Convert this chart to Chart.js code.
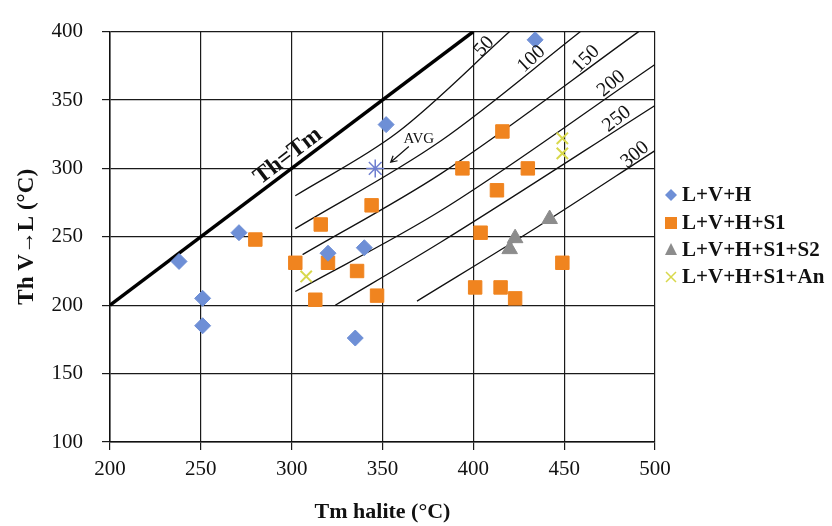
<!DOCTYPE html>
<html>
<head>
<meta charset="utf-8">
<script src="https://cdn.jsdelivr.net/npm/chart.js@4.4.0/dist/chart.umd.min.js"></script>
<style>
  html, body { margin: 0; padding: 0; background: #fff; }
</style>
</head>
<body>
<canvas id="myChart" width="832" height="526"></canvas>
<script>
// measured inclusions (Tm halite, Th V->L)
var lvhX = [238, 251, 251, 271, 320, 340, 335, 352, 434];
var lvhY = [232, 205, 185, 253, 238, 242, 176, 332, 394];

var lvhs1X = [280, 302, 316, 320, 336, 344, 313, 347, 394, 416, 413, 430, 404, 401, 415, 423, 449];
var lvhs1Y = [248, 231, 259, 231, 225, 273, 204, 207, 300, 327, 284, 300, 253, 213, 213, 205, 231];

var lvhs1s2X = [423, 420, 442];
var lvhs1s2Y = [249, 241, 263];

var lvhs1AnX = [308, 449, 449];
var lvhs1AnY = [221, 322, 311];

var avgX = [346];
var avgY = [300];

// Th = Tm line and isobars
var thTmX = [200, 400];
var thTmY = [200, 400];

var isoNames = ['50', '100', '150', '200', '250', '300'];
var isoX = [
  [302, 358, 420],
  [302, 382, 459],
  [306, 382, 491],
  [302, 382, 500],
  [324, 382, 500],
  [369, 435, 500]
];
var isoY = [
  [280, 326, 400],
  [256, 320, 400],
  [237, 296, 400],
  [210, 269, 376],
  [200, 246, 346],
  [203, 257, 313]
];

var xTicks = [200, 250, 300, 350, 400, 450, 500];
var yTicks = [100, 150, 200, 250, 300, 350, 400];

// label placement (data coords) and rotation
var isoLabelPos = [[406, 389, -47], [432, 380, -43], [462, 380, -45], [476, 362, -40], [479, 336, -38], [489, 310, -40]];

function pts(xs, ys) {
  return xs.map(function (v, i) { return { x: v, y: ys[i] }; });
}

var serif = '"Liberation Serif", "Times New Roman", serif';

var datasets = [
  { label: 'L+V+H', data: pts(lvhX, lvhY), pointStyle: 'rectRot', pointRadius: 8,
    backgroundColor: '#6e8fd6', borderColor: '#6e8fd6', order: 1 },
  { label: 'L+V+H+S1', data: pts(lvhs1X, lvhs1Y), pointStyle: 'rect', pointRadius: 9.5,
    backgroundColor: '#f0841f', borderColor: '#f0841f', order: 1 },
  { label: 'L+V+H+S1+S2', data: pts(lvhs1s2X, lvhs1s2Y), pointStyle: 'triangle', pointRadius: 9,
    backgroundColor: '#8c8c8c', borderColor: '#8c8c8c', order: 1 },
  { label: 'L+V+H+S1+An', data: pts(lvhs1AnX, lvhs1AnY), pointStyle: 'crossRot', pointRadius: 8,
    borderWidth: 2, backgroundColor: '#d8d84c', borderColor: '#d8d84c', order: 1 },
  { label: 'AVG', data: pts(avgX, avgY), pointStyle: 'star', pointRadius: 9,
    borderWidth: 1.5, borderColor: '#6f7fd0', backgroundColor: '#6f7fd0', order: 0 },
  { label: 'Th=Tm', data: pts(thTmX, thTmY), showLine: true, pointRadius: 0,
    borderColor: '#000', borderWidth: 3.5, order: 5 }
];

isoNames.forEach(function (n, i) {
  datasets.push({
    label: n, data: pts(isoX[i], isoY[i]), showLine: true, pointRadius: 0,
    borderColor: '#111', borderWidth: 1.3, cubicInterpolationMode: 'monotone', order: 5
  });
});

var legendItems = [
  { text: 'L+V+H', shape: 'diamond', color: '#6e8fd6' },
  { text: 'L+V+H+S1', shape: 'square', color: '#f0841f' },
  { text: 'L+V+H+S1+S2', shape: 'triangle', color: '#8c8c8c' },
  { text: 'L+V+H+S1+An', shape: 'x', color: '#d8d84c' }
];

var annotations = {
  id: 'annotations',
  afterDraw: function (chart) {
    var ctx = chart.ctx, xs = chart.scales.x, ys = chart.scales.y;
    ctx.save();
    ctx.fillStyle = '#111';
    ctx.textAlign = 'center';
    ctx.textBaseline = 'middle';

    // isobar labels
    ctx.font = '20px ' + serif;
    isoNames.forEach(function (n, i) {
      var p = isoLabelPos[i];
      ctx.save();
      ctx.translate(xs.getPixelForValue(p[0]), ys.getPixelForValue(p[1]));
      ctx.rotate(p[2] * Math.PI / 180);
      ctx.fillText(n, 0, 0);
      ctx.restore();
    });

    // Th=Tm label
    ctx.save();
    ctx.font = 'bold 24px ' + serif;
    ctx.translate(xs.getPixelForValue(298), ys.getPixelForValue(309));
    ctx.rotate(-37.4 * Math.PI / 180);
    ctx.fillText('Th=Tm', 0, 0);
    ctx.restore();

    // AVG label and arrow
    ctx.font = '15px ' + serif;
    ctx.fillText('AVG', xs.getPixelForValue(370), ys.getPixelForValue(321.5));
    var ax0 = xs.getPixelForValue(364.5), ay0 = ys.getPixelForValue(316);
    var ax1 = xs.getPixelForValue(354.5), ay1 = ys.getPixelForValue(304.5);
    ctx.strokeStyle = '#111';
    ctx.lineWidth = 1.2;
    ctx.beginPath();
    ctx.moveTo(ax0, ay0);
    ctx.lineTo(ax1, ay1);
    var ang = Math.atan2(ay1 - ay0, ax1 - ax0);
    ctx.moveTo(ax1 - 7 * Math.cos(ang - 0.5), ay1 - 7 * Math.sin(ang - 0.5));
    ctx.lineTo(ax1, ay1);
    ctx.lineTo(ax1 - 7 * Math.cos(ang + 0.5), ay1 - 7 * Math.sin(ang + 0.5));
    ctx.stroke();

    // legend
    var lx = chart.chartArea.right + 16;
    var rows = [195, 223, 250, 277];
    ctx.font = 'bold 21px ' + serif;
    ctx.textAlign = 'left';
    legendItems.forEach(function (it, i) {
      var cy = rows[i];
      ctx.fillStyle = it.color;
      ctx.strokeStyle = it.color;
      ctx.beginPath();
      if (it.shape === 'diamond') {
        ctx.moveTo(lx, cy - 6); ctx.lineTo(lx + 6, cy); ctx.lineTo(lx, cy + 6); ctx.lineTo(lx - 6, cy);
        ctx.closePath(); ctx.fill();
      } else if (it.shape === 'square') {
        ctx.fillRect(lx - 6, cy - 6, 12, 12);
      } else if (it.shape === 'triangle') {
        ctx.moveTo(lx, cy - 7); ctx.lineTo(lx + 6, cy + 5); ctx.lineTo(lx - 6, cy + 5);
        ctx.closePath(); ctx.fill();
      } else {
        ctx.lineWidth = 1.5;
        ctx.moveTo(lx - 5, cy - 5); ctx.lineTo(lx + 5, cy + 5);
        ctx.moveTo(lx + 5, cy - 5); ctx.lineTo(lx - 5, cy + 5);
        ctx.stroke();
      }
      ctx.fillStyle = '#111';
      ctx.fillText(it.text, lx + 11, cy + 1);
    });
    ctx.restore();
  }
};

var ctx = document.getElementById('myChart').getContext('2d');

var chart = new Chart(ctx, {
  type: 'scatter',
  data: { datasets: datasets },
  plugins: [annotations],
  options: {
    responsive: false,
    animation: false,
    events: [],
    devicePixelRatio: 1,
    layout: { padding: { top: 25, right: 177, bottom: 0, left: 0 } },
    plugins: {
      legend: { display: false },
      tooltip: { enabled: false }
    },
    scales: {
      x: {
        type: 'linear', min: 200, max: 500,
        afterBuildTicks: function (s) { s.ticks = xTicks.map(function (v) { return { value: v }; }); },
        afterFit: function (s) { s.height = 84; },
        ticks: { font: { family: serif, size: 21 }, color: '#111', padding: 7 },
        grid: { color: '#1a1a1a', lineWidth: 1.2, tickLength: 8, tickColor: '#1a1a1a' },
        border: { color: '#111', width: 1.5 },
        title: { display: true, text: 'Tm halite (°C)', color: '#111',
          font: { family: serif, size: 22, weight: 'bold' }, padding: { top: 0, bottom: 0 } }
      },
      y: {
        type: 'linear', min: 100, max: 400,
        afterBuildTicks: function (s) { s.ticks = yTicks.map(function (v) { return { value: v }; }); },
        afterFit: function (s) { s.width = 110; },
        ticks: { font: { family: serif, size: 21 }, color: '#111', padding: 19 },
        grid: { color: '#1a1a1a', lineWidth: 1.2, tickLength: 8, tickColor: '#1a1a1a' },
        border: { color: '#111', width: 1.5 },
        title: { display: true, text: 'Th V→L (°C)', color: '#111',
          font: { family: serif, size: 23, weight: 'bold' }, padding: { top: 13, bottom: 0 } }
      }
    }
  }
});
</script>
</body>
</html>
